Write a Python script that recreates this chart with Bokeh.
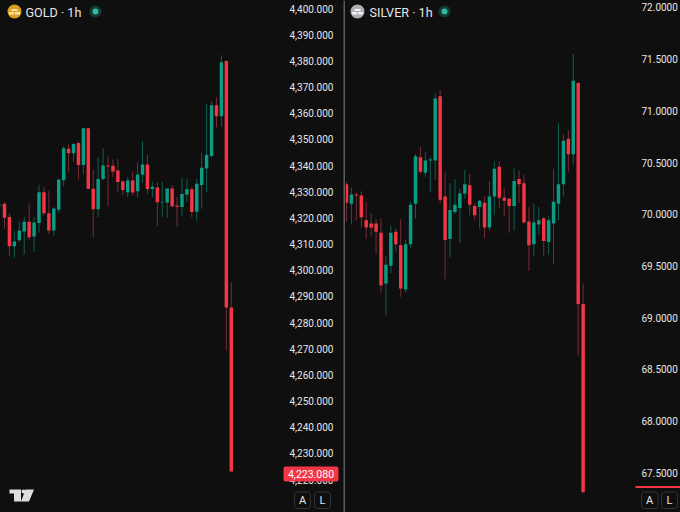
from bokeh.plotting import figure
from bokeh.layouts import row
from bokeh.models import (Range1d, FixedTicker, NumeralTickFormatter, Label,
                          BoxAnnotation, PolyAnnotation, ColumnDataSource)
from bokeh.embed import file_html
from bokeh.resources import INLINE

# ---- data: hourly candles ----
gold_open  = [4324.1,4325.4,4320.3,4309.1,4311.4,4314.8,4318.5,4312.9,4318.0,4329.8,4321.8,4315.2,4323.1,4334.4,4346.4,4344.7,4348.6,4340.2,4354.2,4331.1,4323.3,4334.8,4340.0,4339.9,4338.1,4333.9,4329.8,4334.3,4330.2,4336.5,4340.4,4331.0,4331.6,4325.9,4325.9,4331.2,4324.7,4324.1,4328.8,4330.9,4322.3,4332.6,4338.9,4343.6,4363.0,4358.8,4379.9,4285.7]
gold_high  = [4327.0,4326.0,4321.6,4314.9,4318.6,4320.3,4325.6,4320.3,4332.6,4331.7,4330.5,4324.1,4334.7,4347.5,4348.1,4348.7,4349.1,4354.4,4354.4,4338.4,4343.2,4346.6,4343.5,4342.3,4342.6,4334.5,4335.6,4337.7,4341.3,4349.3,4344.1,4333.8,4333.7,4333.7,4331.2,4332.5,4327.9,4335.3,4334.9,4331.7,4334.9,4344.9,4363.6,4364.6,4366.1,4382.1,4380.2,4295.3]
gold_low   = [4321.0,4315.8,4305.6,4304.7,4310.7,4306.0,4311.6,4307.0,4314.4,4320.8,4313.7,4313.0,4321.8,4332.1,4337.6,4341.4,4334.7,4336.7,4330.9,4312.6,4320.3,4334.3,4324.5,4335.6,4330.1,4328.6,4327.9,4328.6,4327.7,4333.3,4329.2,4327.9,4316.8,4320.3,4319.9,4324.1,4316.5,4320.5,4326.0,4320.3,4319.0,4323.5,4329.8,4343.0,4354.4,4354.7,4269.3,4223.0]
gold_close = [4325.4,4320.0,4309.1,4311.0,4315.2,4318.5,4312.6,4318.2,4329.8,4321.8,4315.2,4323.6,4334.7,4346.6,4344.7,4348.2,4340.2,4354.2,4331.1,4323.3,4334.8,4340.0,4339.6,4337.7,4333.7,4330.6,4334.3,4329.7,4336.6,4340.4,4331.0,4331.9,4326.0,4326.1,4331.2,4324.4,4324.2,4329.1,4330.9,4322.2,4333.0,4339.1,4344.1,4363.0,4358.8,4379.5,4285.7,4223.08]

silver_open  = [70.29,70.10,70.19,70.18,69.94,69.91,69.91,69.82,69.33,69.50,69.83,69.70,69.27,69.71,70.10,70.55,70.40,70.52,70.52,71.14,70.17,69.76,70.02,70.06,70.20,70.28,70.08,70.07,70.11,69.87,70.17,70.46,70.16,70.15,70.08,70.34,70.30,69.93,69.71,69.90,69.96,69.73,69.91,70.10,70.29,70.73,70.58,71.27,69.13]
silver_high  = [70.31,70.26,70.21,70.22,70.12,70.01,69.95,69.96,69.59,69.89,69.86,69.95,69.75,70.12,70.58,70.65,70.60,70.55,71.17,71.20,70.40,70.30,70.34,70.25,70.43,70.39,70.11,70.14,70.17,70.32,70.51,70.51,70.25,70.16,70.45,70.42,70.38,70.07,70.10,70.07,69.97,69.98,70.44,70.88,70.77,70.81,71.55,71.28,69.33]
silver_low   = [69.93,69.90,69.94,69.87,69.76,69.79,69.62,69.24,69.02,69.43,69.64,69.20,69.24,69.67,69.96,70.39,70.36,70.21,70.33,70.11,69.37,69.58,70.00,69.72,70.15,69.99,69.94,69.86,69.77,69.84,69.99,70.06,69.98,69.82,69.84,70.11,69.91,69.45,69.59,69.80,69.59,69.61,69.52,69.94,70.17,70.41,70.48,68.63,67.30]
silver_close = [70.11,70.19,70.18,69.97,69.87,69.87,69.83,69.31,69.51,69.82,69.71,69.28,69.71,70.09,70.56,70.41,70.52,70.53,71.12,70.14,69.75,70.04,70.09,70.20,70.29,70.09,69.99,70.13,69.87,70.17,70.44,70.16,70.13,70.08,70.32,70.29,69.92,69.70,69.92,69.94,69.74,69.94,70.12,70.29,70.71,70.58,71.29,69.13,67.31]

gold_ticks = [4220,4230,4240,4250,4260,4270,4280,4290,4300,4310,4320,4330,4340,4350,4360,4370,4380,4390,4400]
silver_ticks = [67.5,68.0,68.5,69.0,69.5,70.0,70.5,71.0,71.5,72.0]
gold_last_label = "4,223.080"
gold_title = "GOLD · 1h"
silver_title = "SILVER · 1h"

BG = "#0f0f0f"
RED = "#f23645"
GREEN = "#0b9c83"
RED_W = "#7a2b34"
GREEN_W = "#0d5f52"
TXT = "#e6e6e6"
H = 512
FONT = "Roboto"
U = "canvas"
LVL = "annotation"


def box(p, x0, y0, x1, y1, color, radius=0, line=None):
    p.add_layout(BoxAnnotation(left=x0, right=x1, top=y0, bottom=y1,
                               left_units=U, right_units=U, top_units=U,
                               bottom_units=U, fill_color=color, fill_alpha=1,
                               line_color=line, line_alpha=1 if line else 0, border_radius=radius,
                               level=LVL, editable=False))


def text(p, s, x, y, size, color=TXT, align="left", weight="normal"):
    p.add_layout(Label(x=x, y=y, x_units=U, y_units=U, text=s,
                       text_font=FONT, text_font_size=f"{size}px", text_color=color,
                       text_align=align, text_baseline="middle", text_font_style=weight,
                       level=LVL))


def pane(o, h, l, c, x0, x1, y0, y1, frame_w, standoff, ticks, fmt):
    idx = list(range(len(o)))
    up = [a >= b for a, b in zip(c, o)]
    src = ColumnDataSource(dict(x=idx, o=o, h=h, l=l, c=c,
                                body=[GREEN if u else RED for u in up],
                                wick=[GREEN_W if u else RED_W for u in up],
                                top=[max(a, b) for a, b in zip(o, c)],
                                bot=[min(a, b) for a, b in zip(o, c)]))
    p = figure(frame_width=frame_w, frame_height=H,
               x_range=Range1d(x0, x1), y_range=Range1d(y0, y1),
               y_axis_location="right", output_backend="svg", toolbar_location=None,
               background_fill_color=BG, border_fill_color=BG, outline_line_color=None,
               min_border=0, min_border_right=0)
    p.styles = {"background-color": BG}
    p.xaxis.visible = False
    p.xgrid.visible = False
    p.ygrid.visible = False
    ax = p.yaxis[0]
    ax.ticker = FixedTicker(ticks=ticks)
    ax.formatter = NumeralTickFormatter(format=fmt)
    ax.axis_line_color = None
    ax.major_tick_line_color = None
    ax.minor_tick_line_color = None
    ax.major_label_text_color = TXT
    ax.major_label_text_font = FONT
    ax.major_label_text_font_size = "10px"
    ax.major_label_standoff = standoff
    p.segment("x", "h", "x", "l", source=src, line_color="wick", line_width=1)
    p.vbar("x", 0.7, "top", "bot", source=src, fill_color="body", line_color=None)
    return p


left = pane(gold_open, gold_high, gold_low, gold_close, 0.19, 70.17,
            4207.4, 4403.06, 345, -62, gold_ticks, "0,0.000")
right = pane(silver_open, silver_high, silver_low, silver_close, -0.2, 67.75,
             67.113, 72.0677, 335, -45, silver_ticks, "0.0000")

# left pane furniture
box(left, 7, 4, 21, 18, "#d8a21e", 7)
box(left, 11, 8.5, 17, 10.5, "#f7e3a8")
box(left, 8.5, 11.5, 13.5, 14, "#f7e3a8")
box(left, 14.5, 11.5, 19.5, 14, "#f7e3a8")
text(left, gold_title, 25, 11.5, 12.6)
box(left, 89, 5, 101, 17, "#123a33", 6)
box(left, 92, 8, 98, 14, "#35b8a0", 3)
box(left, 343, 0, 345, 512, "#5c5c5c")
box(left, 283, 466, 338, 481, RED, 2)
text(left, gold_last_label, 310.5, 473.5, 10.5, "#ffffff", "center")
box(left, 294, 491.5, 310, 508, BG, 3, "#333333")
box(left, 314, 491.5, 330, 508, BG, 3, "#333333")
text(left, "A", 302, 500, 11, TXT, "center")
text(left, "L", 322, 500, 11, TXT, "center")
left.add_layout(PolyAnnotation(
    xs=[9, 20.5, 20.5, 13.5, 13.5, 9],
    ys=[489, 489, 501, 501, 493, 493],
    xs_units=U, ys_units=U, fill_color="#dddddd", fill_alpha=1,
    line_color=None, level=LVL, editable=False))
left.add_layout(PolyAnnotation(
    xs=[25, 33.5, 28.5, 20.5],
    ys=[489, 489, 501, 501],
    xs_units=U, ys_units=U, fill_color="#dddddd", fill_alpha=1,
    line_color=None, level=LVL, editable=False))
box(left, 21, 489, 25, 493, "#dddddd", 2)

# right pane furniture (its own origin is at reference x = 345)
O = 345
box(right, 350 - O, 4, 364 - O, 18, "#aeaeb6", 7)
box(right, 354 - O, 8.5, 360 - O, 10.5, "#f0f0f0")
box(right, 351.5 - O, 11.5, 356.5 - O, 14, "#f0f0f0")
box(right, 357.5 - O, 11.5, 362.5 - O, 14, "#f0f0f0")
text(right, silver_title, 369 - O, 11.5, 12.6)
box(right, 438 - O, 5, 450 - O, 17, "#123a33", 6)
box(right, 441 - O, 8, 447 - O, 14, "#35b8a0", 3)
box(right, 635 - O, 485.5, 680 - O, 487.5, RED)
box(right, 641 - O, 491.5, 657.5 - O, 508, BG, 3, "#333333")
box(right, 661 - O, 491.5, 677 - O, 508, BG, 3, "#333333")
text(right, "A", 649 - O, 500, 11, TXT, "center")
text(right, "L", 669 - O, 500, 11, TXT, "center")

page = row(left, right, spacing=0)
page.styles = {"background-color": BG}
open("out.html", "w").write(file_html(page, INLINE))
